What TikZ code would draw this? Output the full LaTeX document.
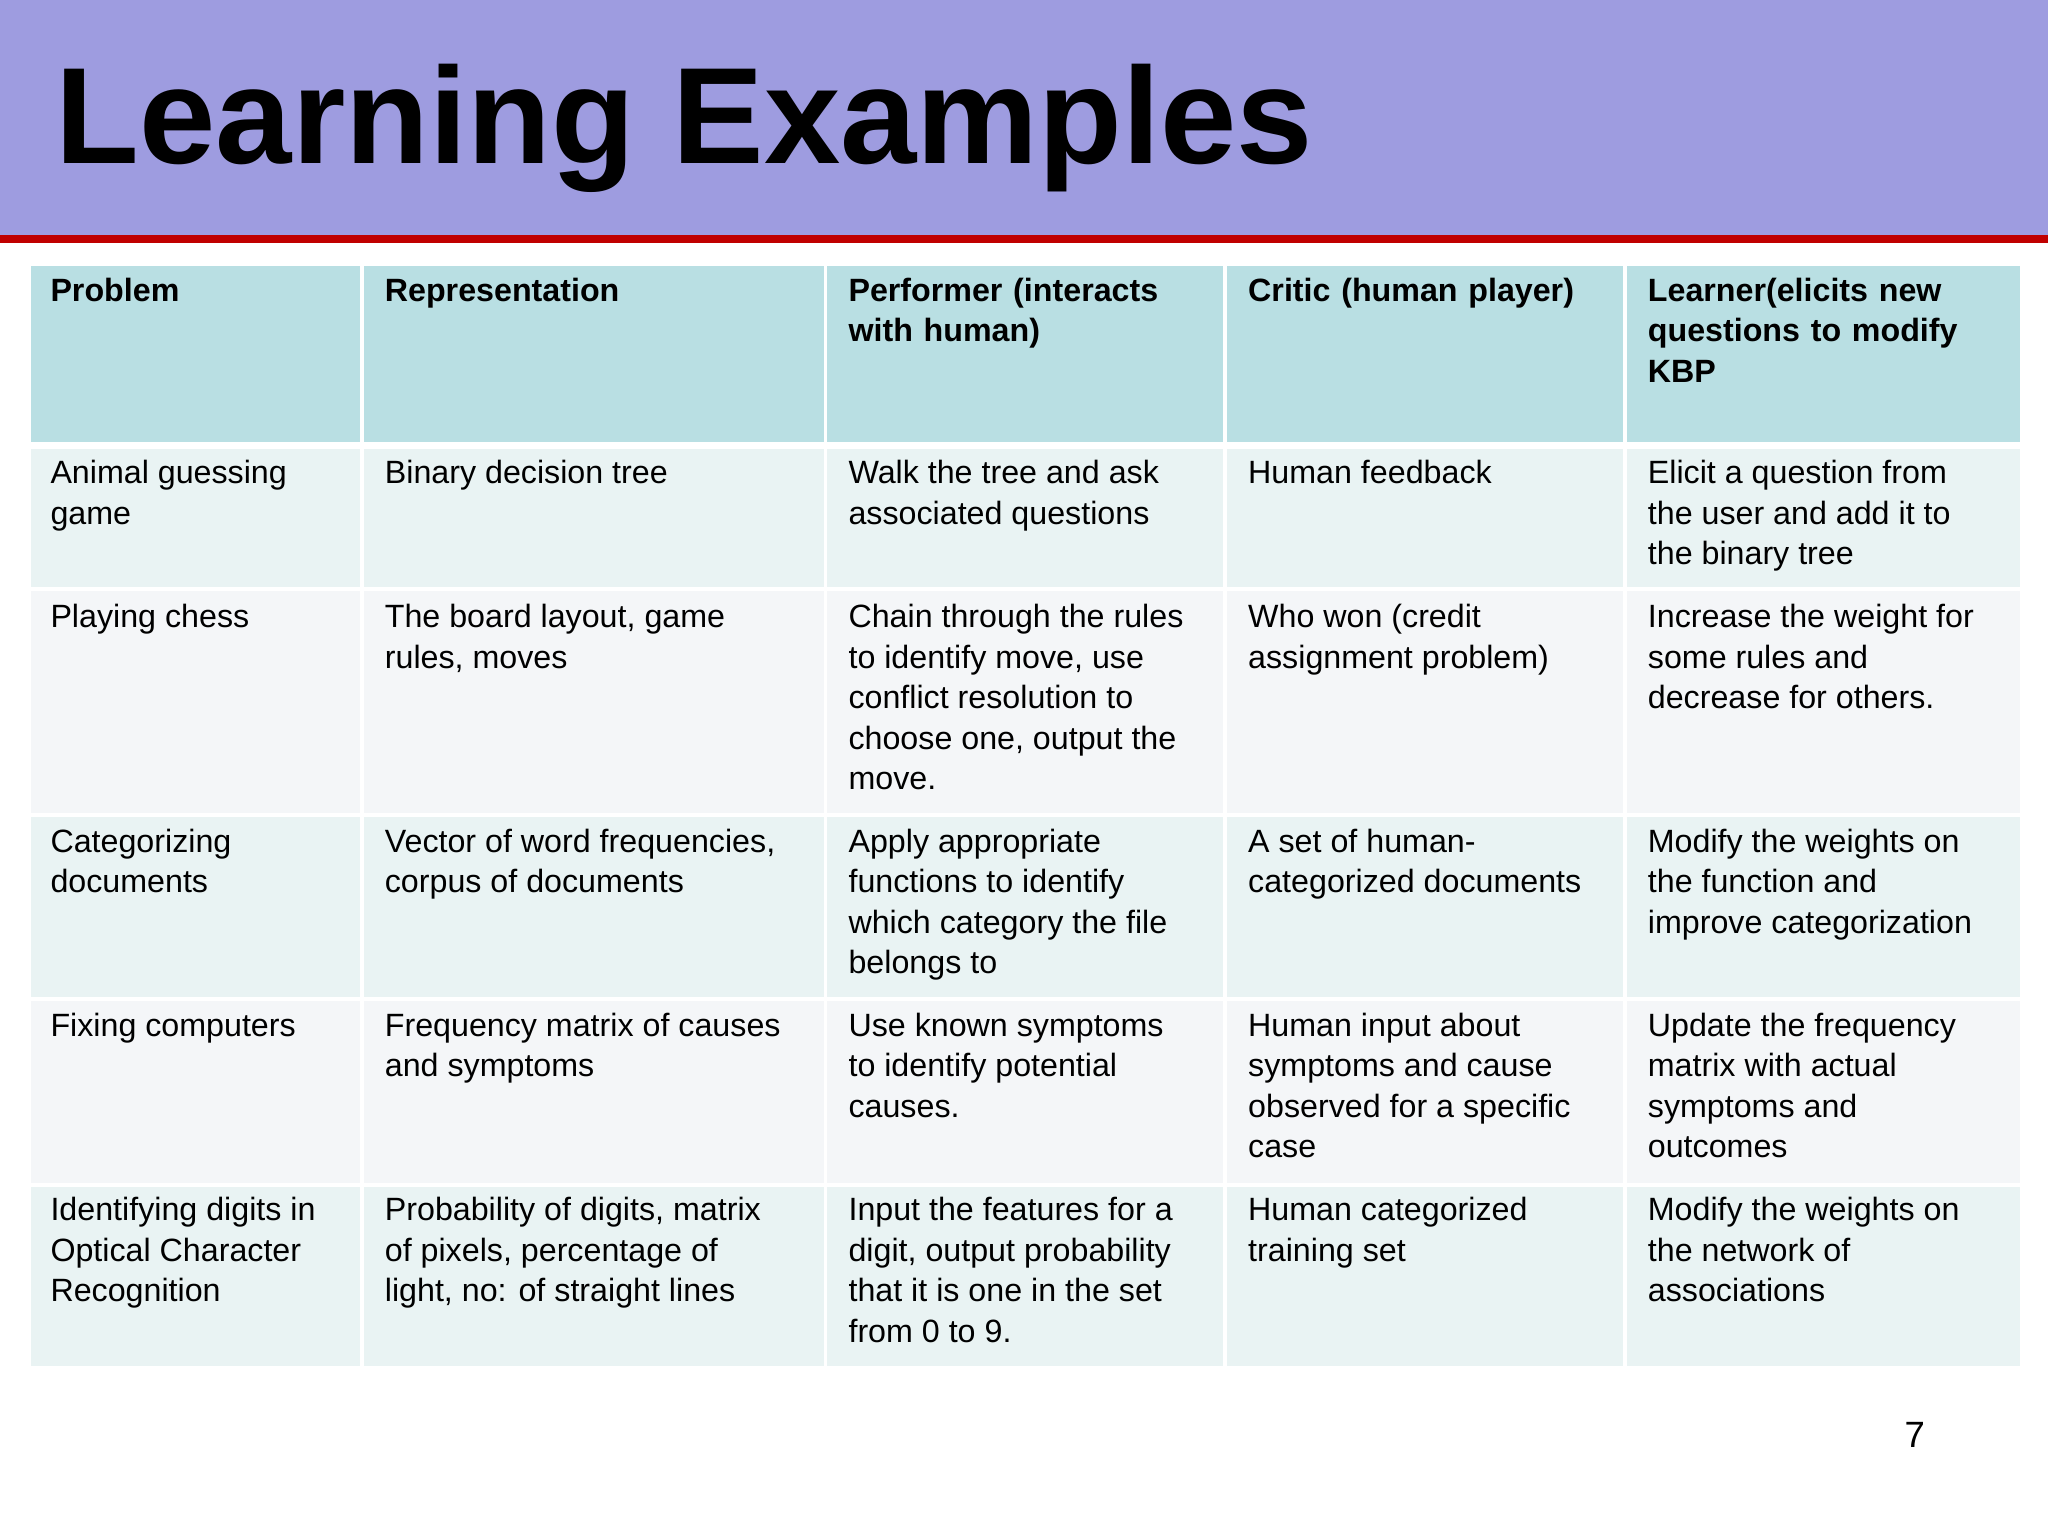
\documentclass[tikz,border=0pt]{standalone}
\usepackage{fontspec}
\setmainfont{Liberation Sans}
\begin{document}
\begin{tikzpicture}[x=0.3pt,y=-0.3pt,
  cell/.style={anchor=north west,inner sep=0pt,align=left,font=\fontsize{7.4}{9.3}\selectfont},
  hcell/.style={cell,font=\bfseries\fontsize{7.4}{9.3}\selectfont}]
\definecolor{band}{HTML}{9E9CE0}
\definecolor{redl}{HTML}{C00000}
\definecolor{hd}{HTML}{B9DFE3}
\definecolor{ra}{HTML}{E9F3F3}
\definecolor{rb}{HTML}{F4F6F8}
\useasboundingbox (0,0) rectangle (1568,1176);
\fill[white] (0,0) rectangle (1568,1176);
\fill[band] (0,0) rectangle (1568,180);
\fill[redl] (0,180) rectangle (1568,186);
\node[anchor=base west,inner sep=0pt,font=\bfseries\fontsize{31.5}{36}\selectfont] (title) at (42,125) {Learning Examples};
\node[anchor=base,inner sep=0pt,font=\fontsize{8.4}{10}\selectfont] (pg) at (1466,1108) {7};
% grid
\def\xs{22,277,632,938,1244,1548}
\foreach \y/\yy/\c in {202/340/hd,342/451/ra,451/624/rb,624/765/ra,765/907/rb,907/1047/ra}{
  \foreach \a/\b in {22/277,277/632,632/938,938/1244,1244/1548}{
    \fill[\c] (\a+1.5,\y+1.5) rectangle (\b-1.5,\yy-1.5);
  }
}
\def\tw#1{text width=#1*0.3pt}
% header
\node[hcell,text width=70pt] (h1) at (38,212) {Problem};
\node[hcell,text width=100pt] (h2) at (294,212) {Representation};
\node[hcell,text width=86pt] (h3) at (649,212) {Performer (interacts with human)};
\node[hcell,text width=86pt] (h4) at (955,212) {Critic (human player)};
\node[hcell,text width=86pt] (h5) at (1261,212) {Learner(elicits new questions to modify KBP};
% rows
\foreach \r/\yy/\a/\b/\c/\d/\e in {
 1/352/{Animal guessing\\game}/{Binary decision tree}/{Walk the tree and ask\\associated questions}/{Human feedback}/{Elicit a question from\\the user and add it to\\the binary tree},
 2/462/{Playing chess}/{The board layout, game\\rules, moves}/{Chain through the rules\\to identify move, use\\conflict resolution to\\choose one, output the\\move.}/{Who won (credit\\assignment problem)}/{Increase the weight for\\some rules and\\decrease for others.},
 3/634/{Categorizing\\documents}/{Vector of word frequencies,\\corpus of documents}/{Apply appropriate\\functions to identify\\which category the file\\belongs to}/{A set of human-\\categorized documents}/{Modify the weights on\\the function and\\improve categorization},
 4/775/{Fixing computers}/{Frequency matrix of causes\\and symptoms}/{Use known symptoms\\to identify potential\\causes.}/{Human input about\\symptoms and cause\\observed for a specific\\case}/{Update the frequency\\matrix with actual\\symptoms and\\outcomes},
 5/916/{Identifying digits in\\Optical Character\\Recognition}/{Probability of digits, matrix\\of pixels, percentage of\\light, no: of straight lines}/{Input the features for a\\digit, output probability\\that it is one in the set\\from 0 to 9.}/{Human categorized\\training set}/{Modify the weights on\\the network of\\associations}}{
  \node[cell] (r\r a) at (38,\yy) {\a};
  \node[cell] (r\r b) at (294,\yy) {\b};
  \node[cell] (r\r c) at (649,\yy) {\c};
  \node[cell] (r\r d) at (955,\yy) {\d};
  \node[cell] (r\r e) at (1261,\yy) {\e};
}
\end{tikzpicture}
\end{document}
